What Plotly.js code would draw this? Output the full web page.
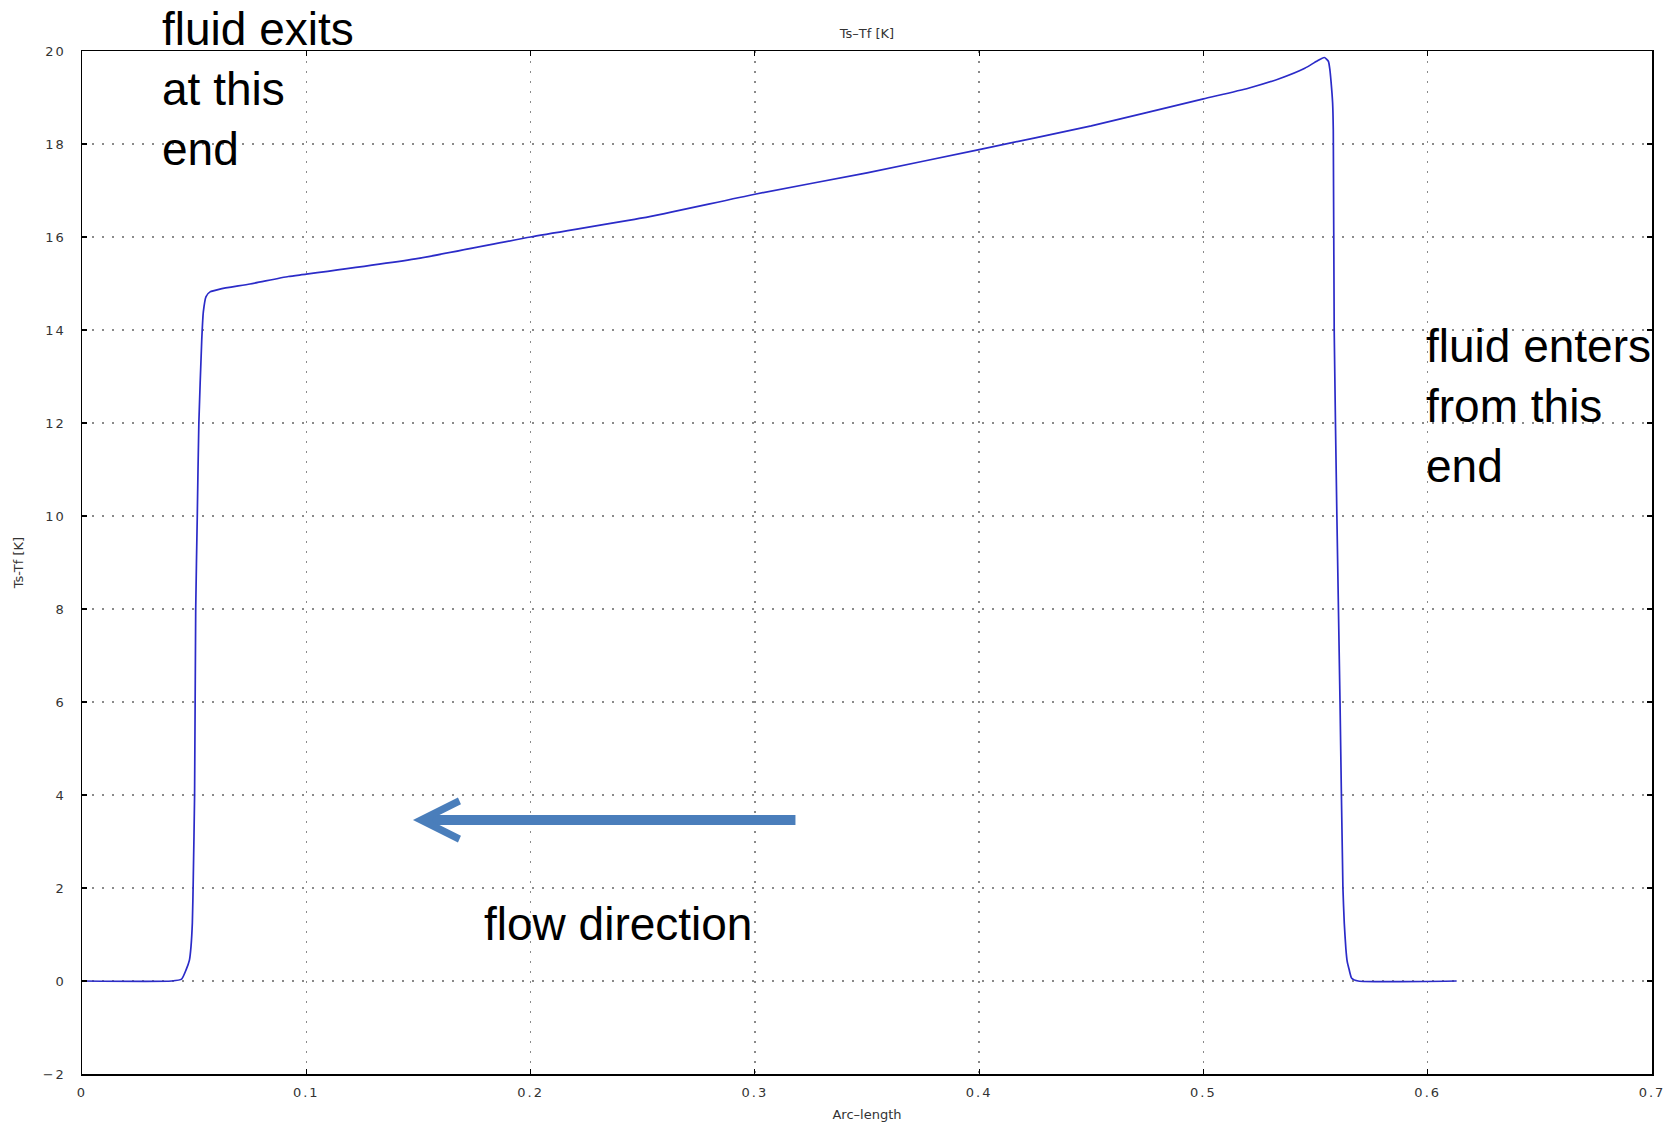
<!DOCTYPE html>
<html>
<head>
<meta charset="utf-8">
<script src="https://cdn.plot.ly/plotly-3.0.1.min.js"></script>
<style>html,body{margin:0;padding:0;background:#fff;}#chart{width:1677px;height:1124px;}
.xtick text, .ytick text {letter-spacing: 2px;}</style>
</head>
<body>
<div id="chart"></div>
<script>
// Arc-length positions
const arcLength = [0, 0.040, 0.0444, 0.0464, 0.0479, 0.0486, 0.0492, 0.0496, 0.0502, 0.0507, 0.0514, 0.0521,
  0.0534, 0.0541, 0.0553, 0.0571, 0.0615, 0.0749, 0.092, 0.1, 0.15, 0.2, 0.25, 0.3, 0.35, 0.4, 0.45, 0.5,
  0.52, 0.5341, 0.5452, 0.5505, 0.5539, 0.5557, 0.5564, 0.5569, 0.5576, 0.5579, 0.5583, 0.5595, 0.5609,
  0.5622, 0.5628, 0.5635, 0.5641, 0.565, 0.5661, 0.569, 0.6129];
// Ts-Tf [K]
const tsMinusTf = [0, 0, 0.04, 0.24, 0.45, 0.74, 1.25, 2.17, 4, 8, 10, 12,
  13.8, 14.39, 14.72, 14.82, 14.88, 14.99, 15.15, 15.2, 15.54, 16.0, 16.41, 16.92, 17.38, 17.88, 18.39, 18.97,
  19.2, 19.41, 19.63, 19.78, 19.86, 19.78, 19.59, 19.34, 18.88, 18.3, 14, 10, 6,
  2, 1.24, 0.70, 0.42, 0.24, 0.06, 0, 0];

const xTicks = [0, 0.1, 0.2, 0.3, 0.4, 0.5, 0.6, 0.7];
const xTickLabels = ['0', '0.1', '0.2', '0.3', '0.4', '0.5', '0.6', '0.7'];
const yTicks = [-2, 0, 2, 4, 6, 8, 10, 12, 14, 16, 18, 20];
const yTickLabels = ['\u22122', '0', '2', '4', '6', '8', '10', '12', '14', '16', '18', '20'];

const chartTitle = 'Ts\u2013Tf [K]';
const xTitle = 'Arc\u2013length';
const yTitle = 'Ts-Tf [K]';
const exitNote = 'fluid exits<br>at this<br>end';
const enterNote = 'fluid enters<br>from this<br>end';
const flowNote = 'flow direction';

const tickFont = {family: '"DejaVu Sans", sans-serif', size: 13, color: '#333'};
const bigFont = {family: '"Liberation Sans"', size: 46, color: '#000'};

const axisCommon = {
  showline: true, linecolor: '#000', linewidth: 1.5, mirror: 'ticks',
  ticks: 'inside', ticklen: 5, tickcolor: '#000', tickwidth: 1.2,
  showgrid: true, gridcolor: '#8a8a8a', gridwidth: 1.5, griddash: '2px,8px',
  zeroline: false, tickfont: tickFont, tickmode: 'array'
};

const trace = {
  x: arcLength, y: tsMinusTf, type: 'scatter', mode: 'lines',
  line: {color: '#2b2bc8', width: 1.7, shape: 'spline', smoothing: 0.5}, hoverinfo: 'skip'
};

const layout = {
  width: 1677, height: 1124,
  margin: {l: 82, r: 25, t: 51, b: 50},
  paper_bgcolor: '#fff', plot_bgcolor: '#fff',
  showlegend: false,
  title: {text: chartTitle, font: {family: '"DejaVu Sans", sans-serif', size: 13, color: '#333'},
          x: 0.517, xanchor: 'center', y: 1 - 33/1124, yanchor: 'middle', yref: 'container'},
  xaxis: Object.assign({}, axisCommon, {
    range: [0, 0.7], tickvals: xTicks, ticktext: xTickLabels, ticklabelstandoff: 6,
    title: {text: xTitle, font: {family: '"DejaVu Sans", sans-serif', size: 13, color: '#333'}, standoff: 11}
  }),
  yaxis: Object.assign({}, axisCommon, {
    range: [-2, 20], tickvals: yTicks, ticktext: yTickLabels, ticklabelstandoff: 12,
    title: {text: yTitle, font: {family: '"DejaVu Sans", sans-serif', size: 13, color: '#333'}, standoff: 16}
  }),
  annotations: [
    {xref: 'paper', yref: 'paper', x: 0.0497, y: 0.963, xanchor: 'left', yanchor: 'middle', align: 'left',
     text: exitNote, showarrow: false, font: bigFont},
    {xref: 'paper', yref: 'paper', x: 0.8545, y: 0.653, xanchor: 'left', yanchor: 'middle', align: 'left',
     text: enterNote, showarrow: false, font: bigFont},
    {xref: 'paper', yref: 'paper', x: 0.3414, y: 0.1466, xanchor: 'center', yanchor: 'middle',
     text: flowNote, showarrow: false, font: bigFont},
    {xref: 'paper', yref: 'paper', x: 0.2108, y: 0.2483, text: '', showarrow: true,
     ax: 384, ay: 0, arrowhead: 5, arrowsize: 0.75, arrowwidth: 10, arrowcolor: '#4a7ebb', standoff: 0}
  ]
};

Plotly.newPlot('chart', [trace], layout, {displayModeBar: false, staticPlot: true});
</script>
</body>
</html>
